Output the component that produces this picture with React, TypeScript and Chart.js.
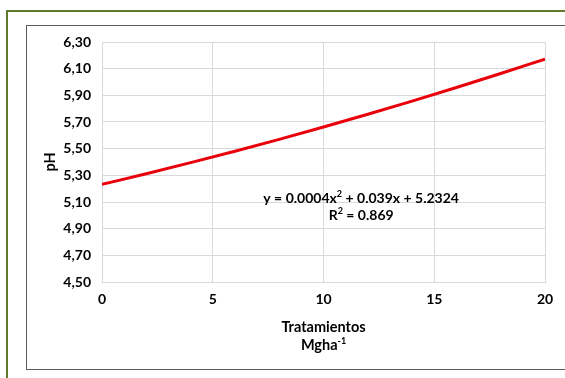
import React, { useEffect, useRef } from "react";
import { Chart, registerables } from "chart.js";

Chart.register(...registerables);

const treatments = [0, 2, 4, 6, 8, 10, 12, 14, 16, 18, 20];
const phValues = [5.232, 5.312, 5.395, 5.481, 5.57, 5.662, 5.758, 5.857, 5.959, 6.064, 6.172];
const xTicks = [0, 5, 10, 15, 20];
const yMin = 4.5;
const yMax = 6.3;
const yStep = 0.2;
const equationText = ["y = 0.0004x", "2", " + 0.039x + 5.2324"];
const r2Text = ["R", "2", " = 0.869"];
const xTitle = "Tratamientos";
const xUnit = ["Mgha", "-1"];
const yTitle = "pH";

const FONT = "Lato, 'Open Sans', sans-serif";

function drawSup(ctx: CanvasRenderingContext2D, parts: string[], cx: number, cy: number, size: number) {
  const big = `bold ${size}px ${FONT}`;
  const small = `bold ${Math.round(size * 0.65)}px ${FONT}`;
  const widths = parts.map((p, i) => {
    ctx.font = i % 2 === 1 ? small : big;
    return ctx.measureText(p).width;
  });
  const total = widths.reduce((a, b) => a + b, 0);
  let x = cx - total / 2;
  ctx.textBaseline = "middle";
  ctx.textAlign = "left";
  parts.forEach((p, i) => {
    ctx.font = i % 2 === 1 ? small : big;
    ctx.fillText(p, x, i % 2 === 1 ? cy - size * 0.3 : cy);
    x += widths[i];
  });
}

const textPlugin = {
  id: "texts",
  afterDraw(chart: any) {
    const ctx = chart.ctx as CanvasRenderingContext2D;
    const a = chart.chartArea;
    const cxArea = (a.left + a.right) / 2;
    ctx.save();
    ctx.fillStyle = "#000";
    drawSup(ctx, equationText, chart.scales.x.getPixelForValue(11.7), 198, 14);
    drawSup(ctx, r2Text, chart.scales.x.getPixelForValue(11.7), 215, 14);
    ctx.font = `bold 14.5px ${FONT}`;
    ctx.textAlign = "center";
    ctx.textBaseline = "middle";
    ctx.fillText(xTitle, cxArea, 327);
    drawSup(ctx, xUnit, cxArea, 345, 14.5);
    ctx.translate(50, (a.top + a.bottom) / 2);
    ctx.rotate(-Math.PI / 2);
    ctx.font = `bold 14.5px ${FONT}`;
    ctx.textAlign = "center";
    ctx.fillText(yTitle, 0, 0);
    ctx.restore();
  },
};

export default function App() {
  const ref = useRef<HTMLCanvasElement | null>(null);
  useEffect(() => {
    document.body.style.margin = "0";
    const chart = new Chart(ref.current as HTMLCanvasElement, {
      type: "line",
      data: {
        datasets: [
          {
            data: treatments.map((t, i) => ({ x: t, y: phValues[i] })),
            borderColor: "#e8000b",
            borderWidth: 3,
            pointRadius: 0,
            cubicInterpolationMode: "monotone",
            fill: false,
          },
        ],
      },
      options: {
        responsive: false,
        animation: false,
        layout: { padding: { left: 0, right: 20, top: 42, bottom: 0 } },
        plugins: { legend: { display: false }, tooltip: { enabled: false } },
        scales: {
          x: {
            type: "linear",
            min: 0,
            max: 20,
            afterBuildTicks: (s: any) => {
              s.ticks = xTicks.map((v) => ({ value: v }));
            },
            afterFit: (s: any) => {
              s.height = 96;
            },
            ticks: { padding: 9, color: "#000", font: { family: FONT, size: 14, weight: "bold" } },
            grid: { color: "#d9d9d9", drawTicks: false },
            border: { color: "#d9d9d9" },
          },
          y: {
            min: yMin,
            max: yMax,
            afterFit: (s: any) => {
              s.width = 102;
            },
            ticks: {
              stepSize: yStep,
              padding: 11,
              color: "#000",
              font: { family: FONT, size: 14, weight: "bold" },
              callback: (v: any) => Number(v).toFixed(2).replace(".", ","),
            },
            grid: { color: "#d9d9d9", drawTicks: false },
            border: { color: "#d9d9d9" },
          },
        },
      },
      plugins: [textPlugin],
    } as any);
    return () => chart.destroy();
  }, []);
  return (
    <div style={{ position: "relative", width: 565, height: 378, overflow: "hidden", background: "#fff" }}>
      <div style={{ position: "absolute", left: 6, top: 10, width: 700, height: 500, border: "2px solid #5f7a2a" }} />
      <div style={{ position: "absolute", left: 26, top: 25, width: 700, height: 343, border: "1.5px solid #5a5a5a" }} />
      <canvas ref={ref} width={565} height={378} style={{ position: "absolute", left: 0, top: 0 }} />
    </div>
  );
}
